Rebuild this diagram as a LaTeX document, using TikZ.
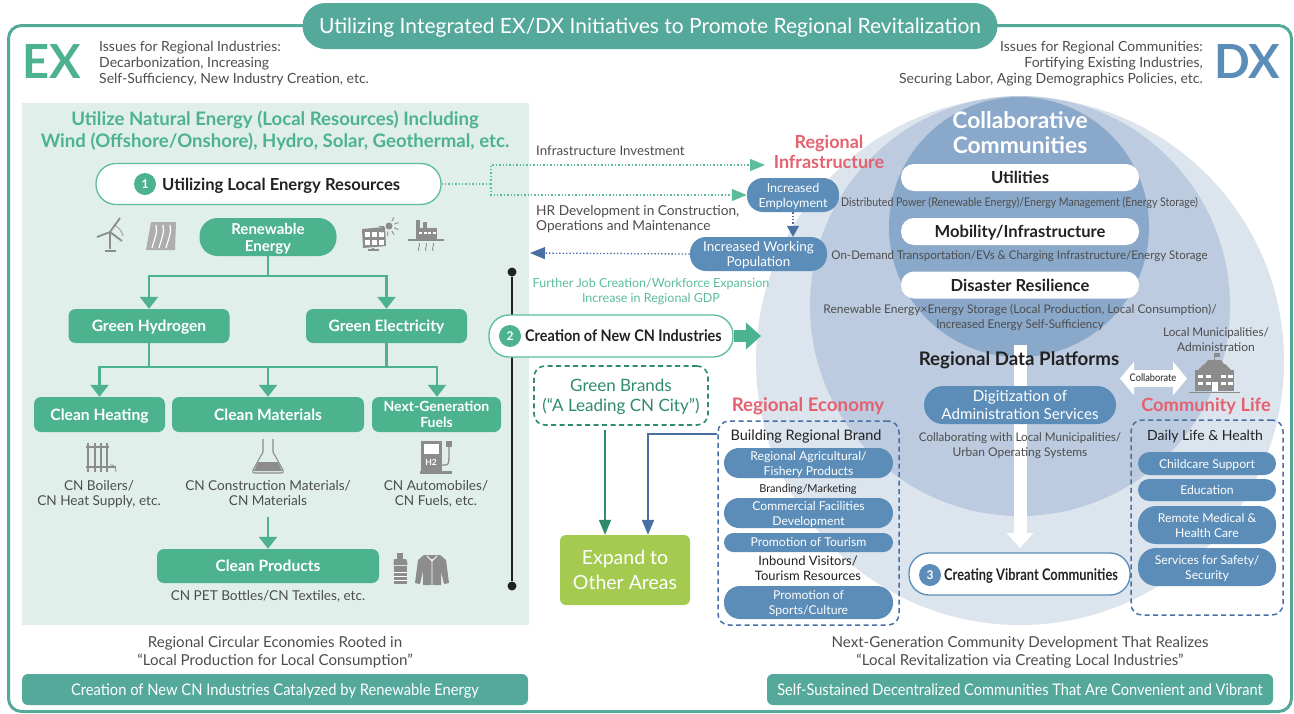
\documentclass[tikz,border=0pt]{standalone}
\usepackage{fontspec}
\setmainfont{Lato}
\usetikzlibrary{arrows.meta,calc}
\definecolor{tealc}{HTML}{55A99B}
\definecolor{greenc}{HTML}{4DB38E}
\definecolor{lgreen}{HTML}{5CBD9B}
\definecolor{bluec}{HTML}{5B8DB8}
\definecolor{navy}{HTML}{4A6FA5}
\definecolor{pinkc}{HTML}{E5616F}
\definecolor{panelc}{HTML}{E0EFEA}
\definecolor{circa}{HTML}{DCE4ED}
\definecolor{circb}{HTML}{BCCBDF}
\definecolor{circc}{HTML}{8AA8C9}
\definecolor{txt}{HTML}{4D4D4D}
\definecolor{dark}{HTML}{222222}
\definecolor{icon}{HTML}{8C8C8C}
\definecolor{dgreen}{HTML}{2E8B6F}
\definecolor{limec}{HTML}{A4CB50}
\newcommand{\fz}[2]{\fontsize{#1}{#2}\selectfont}
\tikzset{
 x=1pt,y=-1pt,
 every node/.style={text depth=0pt},
 gbox/.style={fill=greenc,text=white,font=\fz{15.6}{17}\bfseries,rounded corners=7pt,inner sep=0pt,align=center},
 gpill/.style={gbox,rounded corners=18pt},
 bpill/.style={fill=bluec,text=white,font=\fz{12.2}{15},rounded corners=13pt,inner sep=0pt,align=center},
 wpill/.style={fill=white,text=dark,font=\fz{16.6}{18}\bfseries,rounded corners=13pt,inner sep=0pt,align=center},
 stepring/.style={fill=white,draw=#1,line width=1.3pt,rounded corners=20pt,inner sep=0pt},
 numdot/.style={circle,fill=#1,text=white,font=\fz{12}{12}\bfseries,minimum size=22pt,inner sep=0pt},
 body/.style={text=txt,font=\fz{13.6}{15.5},align=center,inner sep=0pt},
 small/.style={text=txt,font=\fz{12}{15},align=center,inner sep=0pt},
 head/.style={text=pinkc,font=\fz{18}{20.5}\bfseries,align=center,inner sep=0pt},
 banner/.style={fill=tealc,text=white,font=\fz{16}{18},rounded corners=6pt,inner sep=0pt,minimum height=31pt},
 garrow/.style={draw=greenc,line width=2.4pt,-{Triangle[width=18pt,length=12pt]}},
 gline/.style={draw=greenc,line width=2.4pt},
 dotg/.style={draw=lgreen,line width=1.4pt,dash pattern=on 1.4pt off 2pt},
 dotb/.style={draw=navy,line width=1.3pt,dash pattern=on 1.4pt off 2pt},
 dashbox/.style={draw=navy,line width=1.5pt,dashed,dash pattern=on 5pt off 3.5pt,rounded corners=11pt,inner sep=0pt},
}
\begin{document}
\begin{tikzpicture}
\useasboundingbox (0,0) rectangle (1294,713);
\fill[white] (0,0) rectangle (1294,713);
% frame
\node[draw=tealc,line width=3pt,rounded corners=13pt,minimum width=1283pt,minimum height=686pt,inner sep=0pt] (frame) at (650,368.5) {};
\node[fill=tealc,text=white,font=\fz{21}{24},rounded corners=23pt,minimum width=695pt,minimum height=46pt,inner sep=0pt] (title) at (650,26) {Utilizing Integrated EX/DX Initiatives to Promote Regional Revitalization};
% circles
\fill[circa] (1020,361) circle (264);
\fill[circb] (1020,306) circle (210);
\fill[circc] (1019,227) circle (130);
% EX / DX
\node[text=greenc,font=\fz{47}{47}\bfseries,inner sep=0pt] (ex) at (52,62) {EX};
\node[text=bluec,font=\fz{47}{47}\bfseries,inner sep=0pt] (dx) at (1247,62) {DX};
\node[body,font=\fz{14}{16},align=left,anchor=west] (issl) at (99,62) {Issues for Regional Industries:\\Decarbonization, Increasing\\Self-Sufficiency, New Industry Creation, etc.};
\node[body,font=\fz{14}{16},align=right,anchor=east] (issr) at (1203,62) {Issues for Regional Communities:\\Fortifying Existing Industries,\\Securing Labor, Aging Demographics Policies, etc.};
% panel
\fill[panelc] (22,103) rectangle (529,625);
\node[text=greenc,font=\fz{18.6}{22}\bfseries,align=center,inner sep=0pt] (lead) at (275,129) {Utilize Natural Energy (Local Resources) Including\\Wind (Offshore/Onshore), Hydro, Solar, Geothermal, etc.};
% step 1
\node[stepring=lgreen,minimum width=345pt,minimum height=41pt] (s1) at (268.5,184) {};
\node[numdot=greenc] (n1) at (145,184) {1};
\node[anchor=west,text=dark,font=\fz{16.6}{18}\bfseries,inner sep=0pt] (s1t) at (162,184) {Utilizing Local Energy Resources};
% tree
\node[gpill,font=\fz{15}{17}\bfseries,minimum width=137pt,minimum height=38pt] (re) at (268,237) {Renewable\\Energy};
\node[gbox,minimum width=161pt,minimum height=34pt] (gh) at (149,326) {Green Hydrogen};
\node[gbox,minimum width=161pt,minimum height=34pt] (ge) at (386.5,326) {Green Electricity};
\node[gbox,minimum width=131pt,minimum height=35pt] (ch) at (99.5,414.5) {Clean Heating};
\node[gbox,minimum width=192pt,minimum height=35pt] (cm) at (268,414.5) {Clean Materials};
\node[gbox,minimum width=129pt,minimum height=35pt,font=\fz{14}{16}\bfseries] (ng) at (436.5,414.5) {Next-Generation\\Fuels};
\node[gbox,minimum width=222pt,minimum height=34pt] (cp) at (268,566) {Clean Products};
\coordinate (b1) at (268,276);
\draw[gline] (re.south) -- (b1);
\draw[garrow] (b1) -| (gh.north);
\draw[garrow] (b1) -| (ge.north);
\coordinate (b2) at (268,367);
\draw[gline] (gh.south) |- (b2);
\draw[gline] (ge.south) |- (b2);
\draw[garrow] (b2) -| (ch.north);
\draw[garrow] (b2) -- (cm.north);
\draw[garrow] (b2) -| (ng.north -| 437,0);
\node[body] (t1) at (99,493) {CN Boilers/\\CN Heat Supply, etc.};
\node[body] (t2) at (268,493) {CN Construction Materials/\\CN Materials};
\node[body] (t3) at (436,493) {CN Automobiles/\\CN Fuels, etc.};
\coordinate (c0) at (268,517);
\draw[garrow] (c0) -- (cp.north);
\node[body] (t4) at (268,595) {CN PET Bottles/CN Textiles, etc.};
\node[body,font=\fz{15.1}{18}] (circ) at (275,651) {Regional Circular Economies Rooted in\\“Local Production for Local Consumption”};
\node[banner,minimum width=506pt] (bl) at (275,689.5) {\scalebox{0.92}[1]{Creation of New CN Industries Catalyzed by Renewable Energy}};
\node[banner,minimum width=506pt] (br) at (1020,689.5) {\scalebox{0.91}[1]{Self-Sustained Decentralized Communities That Are Convenient and Vibrant}};
\node[body,font=\fz{15.1}{18}] (nextg) at (1020,651) {Next-Generation Community Development That Realizes\\“Local Revitalization via Creating Local Industries”};
% vertical line
\node[circle,fill=dark,minimum size=9pt,inner sep=0pt] (d1) at (512,272) {};
\node[circle,fill=dark,minimum size=9pt,inner sep=0pt] (d2) at (512,586) {};
\draw[dark,line width=1.4pt] (d1) -- (d2);
% middle
\node[head] (rinf) at (829,152) {Regional\\Infrastructure};
\node[bpill,font=\fz{12.5}{15},minimum width=92pt,minimum height=34pt,rounded corners=16pt] (ie) at (793,195) {Increased\\Employment};
\node[bpill,minimum width=137pt,minimum height=34pt,rounded corners=16pt,font=\fz{13.5}{15.5}] (iw) at (758.5,254) {Increased Working\\Population};
\coordinate (dj) at (491,184);
\coordinate (tipi) at (765,165);
\draw[dotg] (s1.east) -- (dj);
\draw[dotg,-{Triangle[width=12pt,length=15pt]}] (dj) |- (tipi);
\draw[dotg,-{Triangle[width=12pt,length=15pt]}] (dj) |- (ie.west);
\draw[dotb,-{Triangle[width=12pt,length=11pt]},draw=navy] (ie.south) -- (ie.south |- iw.north);
\coordinate (bt) at (530,253);
\draw[dotb,-{Triangle[width=12pt,length=15pt]}] (iw.west) -- (bt);
\node[body,font=\fz{13.3}{15},anchor=west] (lab1) at (536,151) {Infrastructure Investment};
\node[body,anchor=west,align=left,font=\fz{13.7}{15.5}] (lab2) at (536,218) {HR Development in Construction,\\Operations and Maintenance};
\node[text=lgreen,font=\fz{12.5}{15.5},align=center,inner sep=0pt] (lab3) at (651,290.5) {Further Job Creation/Workforce Expansion\\Increase in Regional GDP};
\node[stepring=lgreen,minimum width=244pt,minimum height=42pt] (s2) at (611,336) {};
\node[numdot=greenc] (n2) at (510,336) {2};
\node[anchor=west,text=dark,font=\fz{16}{18}\bfseries,inner sep=0pt] (s2t) at (525,336) {\scalebox{0.9}[1]{Creation of New CN Industries}};
\coordinate (tip2) at (761,336);
\draw[draw=greenc,line width=12pt,-{Triangle[width=26pt,length=15pt]}] (s2.east) -- (tip2);
\node[draw=dgreen,line width=1.6pt,dash pattern=on 5pt off 3.5pt,rounded corners=11pt,minimum width=174pt,minimum height=59pt,inner sep=0pt,text=dgreen,font=\fz{17}{20},align=center] (gb) at (621,395.5) {Green Brands\\(“A Leading CN City”)};
\node[fill=limec,text=white,rounded corners=6pt,minimum width=130pt,minimum height=70pt,inner sep=0pt,font=\fz{19.5}{24.5},align=center] (exp) at (625,570) {Expand to\\Other Areas};
\draw[draw=dgreen,line width=1.8pt,-{Triangle[width=12pt,length=15pt]}] (gb.south -| 605,0) ++(0,4) -- (exp.north -| 605,0);
\node[head,font=\fz{18.7}{20}\bfseries] (reco) at (808,405) {Regional Economy};
\node[dashbox,minimum width=181pt,minimum height=204pt] (rebox) at (808.5,523) {};
\coordinate (bj) at (648,434);
\draw[draw=navy,line width=1.8pt,-{Triangle[width=12pt,length=15pt]}] (rebox.west |- bj) -- (bj) -- (bj |- exp.north);
\node[text=dark,font=\fz{14.5}{16},inner sep=0pt] (brb) at (806,435) {Building Regional Brand};
\node[bpill,minimum width=169pt,minimum height=30pt,rounded corners=15pt] (e1) at (808.5,463) {Regional Agricultural/\\Fishery Products};
\node[text=dark,font=\fz{11}{14},inner sep=0pt] (e1t) at (808,488) {Branding/Marketing};
\node[bpill,minimum width=169pt,minimum height=30pt,rounded corners=15pt] (e2) at (808.5,513) {Commercial Facilities\\Development};
\node[bpill,minimum width=169pt,minimum height=19pt,rounded corners=9.5pt] (e3) at (808.5,542.5) {Promotion of Tourism};
\node[text=dark,font=\fz{13}{15},align=center,inner sep=0pt] (e3t) at (808,568.5) {Inbound Visitors/\\Tourism Resources};
\node[bpill,minimum width=169pt,minimum height=33pt,rounded corners=16pt] (e4) at (808.5,602.5) {Promotion of\\Sports/Culture};
% DX right
\node[text=white,font=\fz{22.8}{25}\bfseries,align=center,inner sep=0pt] (cc) at (1020,133) {Collaborative\\Communities};
\node[wpill,minimum width=238pt,minimum height=27pt] (u1) at (1020,177.5) {Utilities};
\node[wpill,minimum width=238pt,minimum height=27pt] (u2) at (1020,231.5) {Mobility/Infrastructure};
\node[wpill,minimum width=238pt,minimum height=27pt] (u3) at (1020,285) {Disaster Resilience};
\node[small,inner sep=0pt] (u1t) at (1019.5,202) {\scalebox{0.88}[1]{Distributed Power (Renewable Energy)/Energy Management (Energy Storage)}};
\node[small,inner sep=0pt] (u2t) at (1019.5,255) {\scalebox{0.96}[1]{On-Demand Transportation/EVs \& Charging Infrastructure/Energy Storage}};
\node[small,inner sep=0pt,font=\fz{12}{15}] (u3t) at (1020,316.5) {Renewable Energy×Energy Storage (Local Production, Local Consumption)/\\\scalebox{0.96}[1]{Increased Energy Self-Sufficiency}};
% white arrow
\coordinate (wa0) at (1020,345);
\coordinate (wa1) at (1020,548);
\draw[draw=white,line width=13pt,-{Triangle[width=26pt,length=15pt,fill=white]}] (wa0) -- (wa1);
\node[text=dark,font=\fz{18.7}{20}\bfseries,inner sep=0pt] (rdp) at (1019,359) {Regional Data Platforms};
\node[bpill,minimum width=192pt,minimum height=38pt,rounded corners=19pt,font=\fz{15.2}{18}] (dig) at (1020,405) {Digitization of\\Administration Services};
\node[small] (collabt) at (1020,444.5) {\scalebox{0.97}[1]{Collaborating with Local Municipalities/}\\Urban Operating Systems};
\node[stepring=bluec,minimum width=221pt,minimum height=42pt] (s3) at (1019.5,574) {};
\node[numdot=bluec] (n3) at (930,575) {3};
\node[anchor=west,text=dark,font=\fz{16}{18}\bfseries,inner sep=0pt] (s3t) at (944,575) {\scalebox{0.805}[1]{Creating Vibrant Communities}};
% collaborate
\coordinate (ca) at (1120,378.5);
\coordinate (cb) at (1187,378.5);
\draw[draw=white,line width=17pt,{Triangle[width=33pt,length=14pt,fill=white]}-{Triangle[width=33pt,length=14pt,fill=white]}] (ca) -- (cb);
\node[text=dark,font=\fz{10.5}{12},inner sep=0pt] (cl) at (1153,378) {\scalebox{0.88}[1]{Collaborate}};
\node[small] (lm) at (1216,340) {\scalebox{0.97}[1]{Local Municipalities/}\\Administration};
\node[head,font=\fz{18.3}{20}\bfseries] (clife) at (1206,405) {Community Life};
\node[dashbox,minimum width=152pt,minimum height=195pt] (clbox) at (1207,517.5) {};
\node[text=dark,font=\fz{14}{16},inner sep=0pt] (dlh) at (1205,435) {Daily Life \& Health};
\node[bpill,minimum width=138pt,minimum height=23pt,rounded corners=11.5pt] (l1) at (1207,463.5) {Childcare Support};
\node[bpill,minimum width=138pt,minimum height=22pt,rounded corners=11pt] (l2) at (1207,490) {Education};
\node[bpill,minimum width=138pt,minimum height=38pt,rounded corners=18pt] (l3) at (1207,525) {Remote Medical \&\\Health Care};
\node[bpill,minimum width=138pt,minimum height=38pt,rounded corners=18pt] (l4) at (1207,567) {Services for Safety/\\Security};
% ICONS
\begin{scope}[draw=icon,fill=icon,line width=1pt]
% wind
\draw[line width=1.6pt] (110,232) -- (110,249);
\fill (105,250) rectangle (116,252);
\draw[line width=1.8pt] (110,232) -- (120,218) (110,232) -- (97,237) (110,232) -- (122,241);
\draw[line width=0.7pt] (114,224) .. controls (118,228) and (122,230) .. (123,236);
% hydro
\fill[icon!70] (151,222) -- (176,222) -- (175,250) -- (146,250) -- cycle;
\draw[white,line width=1.2pt] (156,225) .. controls (158,232) and (154,240) .. (152,248)
 (163,225) .. controls (165,232) and (161,240) .. (159,248)
 (170,225) .. controls (172,232) and (168,240) .. (166,248);
% solar
\fill (362,229) -- (385,227) -- (386,246) -- (363,248) -- cycle;
\foreach \i in {0,1,2}{\fill[white] (365+7*\i,232) rectangle ++(5,5);\fill[white] (365+7*\i,240) rectangle ++(5,5);}
\draw[line width=1.5pt] (373,248) -- (373,250) (368,250) -- (379,250);
\fill (389,226) circle (3.5);
\foreach \a in {-60,-20,20,60,100,140,180}{\draw[line width=0.9pt] (389,226) ++(\a:5.5) -- ++(\a:4.5);}
% geothermal
\fill (416,220) rectangle (420,228);
\fill (423,222) rectangle (427,228);
\fill (416,228) rectangle (437,239);
\foreach \i in {0,1,2,3}{\fill[white] (419+4.5*\i,232) rectangle ++(3,2);}
\draw[line width=1.1pt] (408,240) -- (444,240);
\draw[line width=0.8pt] (419,243) .. controls (421,246) and (417,248) .. (419,251)
 (426,243) .. controls (428,246) and (424,248) .. (426,251)
 (433,243) .. controls (435,246) and (431,248) .. (433,251);
% boiler
\foreach \xx in {88,95,101,107}{\draw[line width=1.8pt] (\xx,443) -- (\xx,472);}
\draw[line width=1.1pt] (86,447) -- (109,447) (86,467) -- (116,467);
\draw[line width=0.8pt] (110,465) .. controls (114,464) and (116,468) .. (116,472);
% flask
\draw[line width=1.1pt] (263,439) -- (263,452) -- (253,470) .. controls (252,472) and (253,473) .. (255,473) -- (281,473) .. controls (283,473) and (284,472) .. (283,470) -- (273,452) -- (273,439);
\fill[icon] (258,462) -- (278,462) -- (282,471) -- (254,471) -- cycle;
% H2 pump
\fill (421,441) rectangle (442,471);
\fill (420,471) rectangle (452,474);
\fill[white] (424,444) rectangle (439,454);
\fill[icon] (431.5,454) -- (426,454) arc (180:0:5.5) -- cycle;
\node[text=white,font=\fz{8.5}{9}\bfseries,inner sep=0pt] (h2) at (431,462) {H2};
\draw[line width=1.3pt] (442,465) -- (446,465) .. controls (449,465) and (449,460) .. (449,455) -- (449,447);
\fill (446,441) rectangle (452,447);
% bottle
\fill (397,553) rectangle (403,559);
\fill (394,559) .. controls (394,561) and (393,563) .. (393.5,565) -- (407.5,565) .. controls (408,563) and (407,561) .. (406,559) -- cycle;
\fill (394,566) rectangle (407,584);
\foreach \yy in {572,576,580}{\draw[white,line width=0.7pt] (394,\yy) -- (407,\yy);}
% jacket
\fill (424,555) -- (440,555) -- (446,560) -- (449,583) -- (444,584) -- (441,571) -- (441,585) -- (423,585) -- (423,571) -- (420,584) -- (415,583) -- (418,560) -- cycle;
\draw[white,line width=0.8pt] (432,559) -- (432,585) (427,556) -- (432,561) -- (437,556);
% building
\fill (1195,370) rectangle (1234,391);
\fill (1204,364) -- (1225,364) -- (1231,370) -- (1198,370) -- cycle;
\fill (1208,360) -- (1221,360) -- (1224,364) -- (1205,364) -- cycle;
\draw[line width=0.8pt] (1214.5,360) -- (1214.5,353);
\fill (1214.5,353) rectangle (1220,357);
\foreach \xx in {1199,1207,1222,1229}{\fill[white] (\xx-1,375) rectangle ++(5,3);\fill[white] (\xx-1,382) rectangle ++(5,3);}
\fill[white] (1212,382) rectangle (1218,391);
\draw[line width=1pt] (1189,392.5) -- (1240,392.5);
\end{scope}
\end{tikzpicture}
\end{document}
